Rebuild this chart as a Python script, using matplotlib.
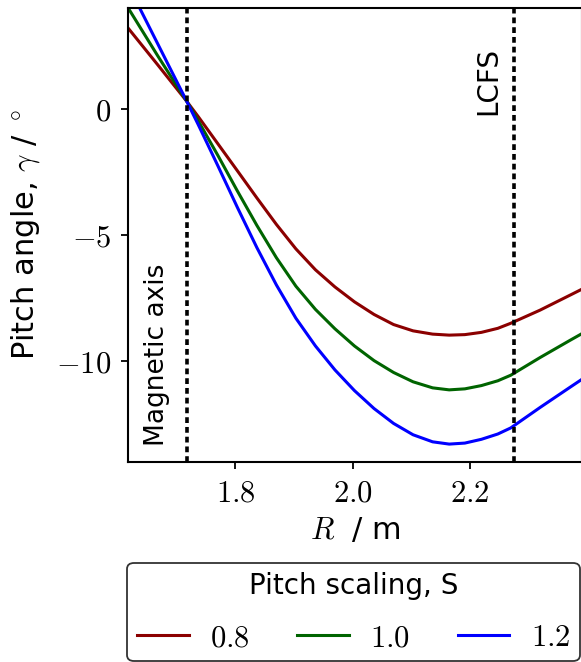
import matplotlib
matplotlib.use("Agg")
import matplotlib.pyplot as plt

plt.rcParams['mathtext.fontset'] = 'cm'
plt.rcParams['font.family'] = ['DejaVu Sans']

# Data
R = [1.617, 1.667, 1.717, 1.7367, 1.77, 1.8033, 1.8367, 1.87, 1.9033, 1.9367,
     1.97, 2.0033, 2.0367, 2.07, 2.1033, 2.1367, 2.165, 2.1917, 2.22, 2.248,
     2.27, 2.32, 2.3717, 2.40]
gamma_08 = [3.2, 1.76, 0.3, -0.31, -1.38, -2.45, -3.53, -4.58, -5.55, -6.38,
            -7.06, -7.65, -8.15, -8.55, -8.80, -8.93, -8.97, -8.95, -8.86, -8.70,
            -8.50, -7.98, -7.38, -7.05]
gamma_10 = [4.0, 2.12, 0.3, -0.48, -1.84, -3.25, -4.62, -5.90, -7.03, -7.95,
            -8.72, -9.40, -9.98, -10.45, -10.82, -11.06, -11.14, -11.10, -10.97, -10.78,
            -10.56, -9.86, -9.17, -8.80]
gamma_12 = [4.9, 2.6, 0.3, -0.63, -2.25, -3.90, -5.50, -6.98, -8.30, -9.40,
            -10.35, -11.17, -11.88, -12.47, -12.92, -13.20, -13.29, -13.25, -13.10, -12.89,
            -12.65, -11.84, -11.03, -10.59]
scalings = ['0.8', '1.0', '1.2']
colors = ['#8b0000', '#006400', '#0000ff']
xticks = [1.8, 2.0, 2.2]
xticklabels = ['$1.8$', '$2.0$', '$2.2$']
yticks = [0, -5, -10]
yticklabels = ['$0$', '$-5$', '$-10$']
R_axis = 1.717
R_lcfs = 2.275

fig = plt.figure(figsize=(5.81, 6.62), dpi=100)
ax = fig.add_axes([128/581, 200/662, 454/581, 454/662])

for g, lab, c in zip([gamma_08, gamma_10, gamma_12], scalings, colors):
    ax.plot(R, g, color=c, lw=2.2, label='$' + lab + '$')

ax.axvline(R_axis, color='black', lw=2.6, dashes=(1.6, 1.1))
ax.axvline(R_lcfs, color='black', lw=2.6, dashes=(1.6, 1.1))

ax.text(R_axis - 0.05, -13.35, 'Magnetic axis', rotation=90, ha='center', va='bottom', fontsize=19)
ax.text(R_lcfs - 0.044, 1.1, 'LCFS', rotation=90, ha='center', va='center', fontsize=20)

ax.set_xlim(1.6167, 2.3917)
ax.set_ylim(-14, 4)
ax.set_xticks(xticks)
ax.set_xticklabels(xticklabels)
ax.set_yticks(yticks)
ax.set_yticklabels(yticklabels)
ax.tick_params(labelsize=22, width=1.3, length=5, pad=7)
for s in ax.spines.values():
    s.set_linewidth(1.5)

ax.set_xlabel(r'$R\ $ / m', fontsize=22, labelpad=6)
ax.set_ylabel(r'Pitch angle, $\gamma$ / $^\circ$', fontsize=22, labelpad=10)

leg = ax.legend(title='Pitch scaling, S', ncol=3, loc='upper center',
                bbox_to_anchor=(353.5/581, 99/662), bbox_transform=fig.transFigure,
                borderaxespad=0,
                fontsize=22, title_fontsize=20, handlelength=1.7, handletextpad=0.7,
                columnspacing=1.55, borderpad=0.3, labelspacing=0.75,
                frameon=True, fancybox=True, edgecolor='#333333', framealpha=1)
leg.get_frame().set_linewidth(1.3)

fig.savefig('out.png', dpi=100)
